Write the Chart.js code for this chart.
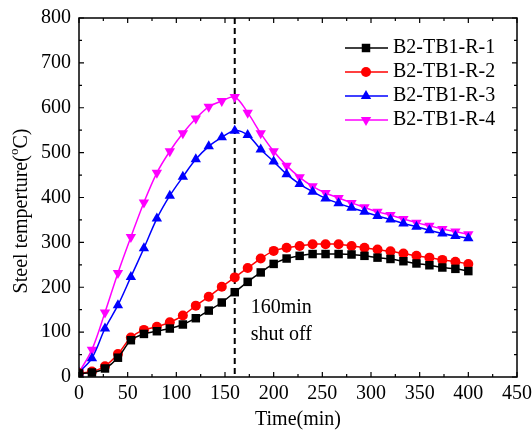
<!DOCTYPE html>
<html>
<head>
<meta charset="utf-8">
<script src="https://cdn.jsdelivr.net/npm/chart.js@4/dist/chart.umd.min.js"></script>
<style>
  html, body { margin: 0; padding: 0; background: #fff; }
  #wrap { width: 532px; height: 435px; }
</style>
</head>
<body>
<div id="wrap"><canvas id="tempChart"></canvas></div>
<script>
// sampling times (min)
const time = [0, 13.3, 26.7, 40, 53.3, 66.7, 80, 93.3, 106.7, 120, 133.3, 146.7, 160,
  173.3, 186.7, 200, 213.3, 226.7, 240, 253.3, 266.7, 280, 293.3, 306.7, 320,
  333.3, 346.7, 360, 373.3, 386.7, 400];

const names = ['B2-TB1-R-1', 'B2-TB1-R-2', 'B2-TB1-R-3', 'B2-TB1-R-4'];

// steel temperature (°C)
const r1 = [8, 10, 19, 43, 82, 96, 102, 108, 117, 131, 148, 166, 189,
  212, 233, 252, 264, 270, 274, 274, 274, 273, 270, 266, 263,
  258, 253, 249, 244, 241, 236];
const r2 = [9, 12, 24, 51, 88, 105, 112, 122, 137, 159, 179, 201, 222,
  243, 264, 281, 288, 292, 296, 296, 296, 292, 288, 284, 280,
  275, 270, 266, 261, 257, 252];
const r3 = [10, 42, 108, 160, 223, 287, 353, 404, 446, 485, 514, 534, 549,
  539, 507, 480, 452, 430, 413, 398, 387, 377, 368, 359, 351,
  342, 335, 327, 320, 314, 309];
const r4 = [10, 61, 144, 232, 312, 389, 455, 503, 543, 576, 602, 615, 624,
  589, 543, 503, 471, 445, 425, 410, 399, 388, 378, 368, 361,
  352, 344, 337, 330, 324, 318];

const shutOff = 160;

const FONT = 'Liberation Serif, Times New Roman, serif';

function series(label, ys, color, style, rot, r) {
  return {
    label: label,
    data: time.map((t, i) => ({ x: t, y: ys[i] })),
    borderColor: color,
    backgroundColor: color,
    borderWidth: 1.5,
    pointStyle: style,
    rotation: rot,
    pointRadius: r,
    pointBorderWidth: 0,
    pointHoverRadius: r,
    tension: 0.35
  };
}

const datasets = [
  series(names[0], r1, '#000000', 'rect', 0, 6),
  series(names[1], r2, '#ff0000', 'circle', 0, 5),
  series(names[2], r3, '#0000ff', 'triangle', 0, 6),
  series(names[3], r4, '#ff00ff', 'triangle', 180, 6)
];

// box, inward ticks, shut-off line, notes, legend and y title
const frame = {
  id: 'frame',
  beforeDatasetsDraw(chart) {
    const ctx = chart.ctx, a = chart.chartArea;
    const x = chart.scales.x.getPixelForValue(shutOff);
    ctx.save();
    ctx.strokeStyle = '#000';
    ctx.lineWidth = 2;
    ctx.setLineDash([6, 4]);
    ctx.beginPath();
    ctx.moveTo(x, a.top);
    ctx.lineTo(x, a.bottom);
    ctx.stroke();
    ctx.restore();
  },
  afterDraw(chart) {
    const ctx = chart.ctx, a = chart.chartArea;
    const xs = chart.scales.x, ys = chart.scales.y;
    ctx.save();
    ctx.strokeStyle = '#000';
    ctx.lineWidth = 1.5;
    ctx.strokeRect(a.left, a.top, a.right - a.left, a.bottom - a.top);

    ctx.lineWidth = 1.2;
    ctx.beginPath();
    for (let v = xs.min; v <= xs.max; v += 25) {
      const px = xs.getPixelForValue(v);
      const len = v % 50 === 0 ? 5 : 3;
      ctx.moveTo(px, a.bottom); ctx.lineTo(px, a.bottom - len);
      ctx.moveTo(px, a.top); ctx.lineTo(px, a.top + len);
    }
    for (let v = ys.min; v <= ys.max; v += 50) {
      const py = ys.getPixelForValue(v);
      const len = v % 100 === 0 ? 5 : 3;
      ctx.moveTo(a.left, py); ctx.lineTo(a.left + len, py);
      ctx.moveTo(a.right, py); ctx.lineTo(a.right - len, py);
    }
    ctx.stroke();

    // note beside the shut-off line
    ctx.fillStyle = '#000';
    ctx.font = '20px ' + FONT;
    ctx.textAlign = 'left';
    ctx.textBaseline = 'middle';
    const nx = xs.getPixelForValue(shutOff) + 16;
    ctx.fillText('160min', nx, a.bottom - 69);
    ctx.fillText('shut off', nx, a.bottom - 42);

    // legend
    const lx = a.right - 172, ly = a.top + 30;
    chart.data.datasets.forEach((ds, i) => {
      const y = ly + i * 24;
      ctx.strokeStyle = ds.borderColor;
      ctx.lineWidth = 1.5;
      ctx.beginPath();
      ctx.moveTo(lx, y); ctx.lineTo(lx + 43, y);
      ctx.stroke();
      ctx.fillStyle = ds.borderColor;
      Chart.helpers.drawPoint(ctx, {
        pointStyle: ds.pointStyle, rotation: ds.rotation,
        radius: ds.pointRadius, borderWidth: 0
      }, lx + 21, y);
      ctx.fillStyle = '#000';
      ctx.fillText(ds.label, lx + 48, y);
    });

    // y title with superscript o
    ctx.translate(22, 211);
    ctx.rotate(-Math.PI / 2);
    const p1 = 'Steel temperture(', p2 = 'o', p3 = 'C)';
    ctx.font = '20px ' + FONT;
    const w1 = ctx.measureText(p1).width, w3 = ctx.measureText(p3).width;
    ctx.font = '13px ' + FONT;
    const w2 = ctx.measureText(p2).width;
    let x0 = -(w1 + w2 + w3) / 2;
    ctx.font = '20px ' + FONT;
    ctx.fillText(p1, x0, 0);
    ctx.font = '13px ' + FONT;
    ctx.fillText(p2, x0 + w1, -7);
    ctx.font = '20px ' + FONT;
    ctx.fillText(p3, x0 + w1 + w2, 0);
    ctx.restore();
  }
};

new Chart(document.getElementById('tempChart'), {
  type: 'line',
  data: { datasets: datasets },
  options: {
    responsive: true,
    maintainAspectRatio: false,
    animation: false,
    events: [],
    layout: { padding: { top: 18, right: 15, left: 0, bottom: 0 } },
    plugins: { legend: { display: false }, tooltip: { enabled: false } },
    scales: {
      x: {
        type: 'linear',
        min: 0, max: 450,
        ticks: { stepSize: 50, color: '#000', font: { family: FONT, size: 20 }, padding: 5, maxRotation: 0 },
        grid: { display: false, drawTicks: false },
        border: { display: false },
        title: { display: true, text: 'Time(min)', color: '#000', font: { family: FONT, size: 20 }, padding: { top: 0, bottom: 3 } },
        afterFit(scale) {
          scale.height = 58;
          scale.paddingLeft = 0;
          scale.paddingRight = 0;
        }
      },
      y: {
        min: 0, max: 800,
        ticks: { stepSize: 100, color: '#000', font: { family: FONT, size: 20 }, padding: 8 },
        grid: { display: false, drawTicks: false },
        border: { display: false },
        afterFit(scale) {
          scale.width = 79;
          scale.paddingTop = 0;
          scale.paddingBottom = 0;
        }
      }
    }
  },
  plugins: [frame]
});
</script>
</body>
</html>
